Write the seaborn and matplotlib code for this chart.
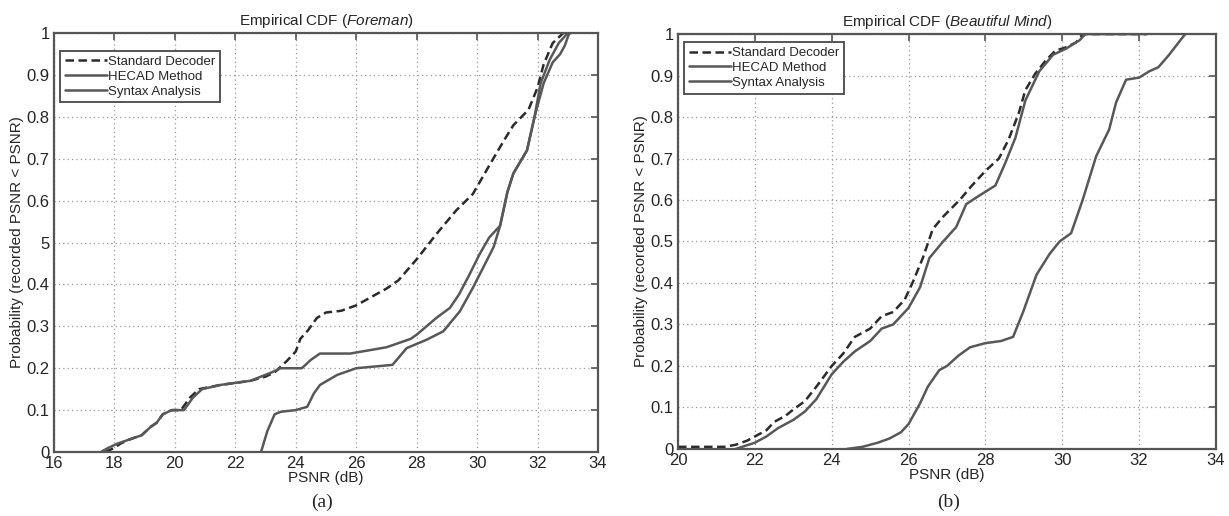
import matplotlib
matplotlib.use("Agg")
import matplotlib.pyplot as plt
import seaborn as sns
import pandas as pd

# ---------------- data ----------------
series_names = ["Standard Decoder", "HECAD Method", "Syntax Analysis"]

# Panel (a) Foreman
std_a_x = [17.7, 18.0, 18.2, 18.5, 18.9, 19.2, 19.4, 19.6, 19.9, 20.2, 20.5, 20.8, 21.5, 22.0, 22.5, 23.0,
           23.3, 23.7, 24.0, 24.15, 24.4, 24.7, 25.0, 25.5, 26.0, 26.5, 27.0, 27.4, 28.0, 28.65, 29.3,
           29.86, 30.5, 30.9, 31.2, 31.7, 32.0, 32.2, 32.5, 32.85, 33.1]
std_a_y = [0, 0.01, 0.02, 0.03, 0.04, 0.06, 0.07, 0.09, 0.10, 0.10, 0.13, 0.15, 0.16, 0.165, 0.17, 0.18,
           0.19, 0.217, 0.24, 0.27, 0.29, 0.32, 0.333, 0.337, 0.35, 0.37, 0.39, 0.41, 0.46, 0.52, 0.576,
           0.616, 0.696, 0.745, 0.78, 0.817, 0.87, 0.925, 0.976, 1.0, 1.0]
hecad_a_x = [17.55, 17.8, 18.1, 18.5, 18.9, 19.2, 19.4, 19.6, 19.9, 20.3, 20.6, 20.9, 21.5, 22.5, 23.2,
             23.5, 24.2, 24.5, 24.8, 25.3, 25.8, 26.2, 27.0, 27.8, 28.0, 28.65, 29.1, 29.4, 29.75, 30.08,
             30.4, 30.76, 31.0, 31.2, 31.65, 31.9, 32.1, 32.4, 32.7, 33.0, 33.1]
hecad_a_y = [0, 0.01, 0.02, 0.03, 0.04, 0.06, 0.07, 0.09, 0.10, 0.10, 0.13, 0.15, 0.16, 0.17, 0.19,
             0.20, 0.20, 0.22, 0.235, 0.235, 0.235, 0.24, 0.25, 0.27, 0.28, 0.32, 0.344, 0.376, 0.424, 0.472,
             0.512, 0.54, 0.62, 0.665, 0.72, 0.8, 0.88, 0.936, 0.976, 1.0, 1.0]
syntax_a_x = [22.85, 23.06, 23.3, 23.5, 24.0, 24.38, 24.6, 24.8, 25.37, 26.0, 27.2, 27.67, 28.33, 28.88,
              29.43, 29.86, 30.2, 30.55, 30.76, 31.0, 31.2, 31.65, 31.9, 32.2, 32.5, 32.75, 32.9, 33.05]
syntax_a_y = [0, 0.05, 0.09, 0.096, 0.1, 0.108, 0.14, 0.16, 0.184, 0.2, 0.208, 0.248, 0.268, 0.288,
              0.336, 0.392, 0.44, 0.49, 0.54, 0.62, 0.665, 0.72, 0.8, 0.88, 0.93, 0.95, 0.97, 1.0]

# Panel (b) Beautiful Mind
std_b_x = [20.0, 21.2, 21.5, 21.8, 22.0, 22.3, 22.5, 22.8, 23.0, 23.3, 23.6, 24.0, 24.3, 24.6, 25.0, 25.3,
           25.6, 25.9, 26.1, 26.37, 26.63, 26.9, 27.33, 27.65, 28.0, 28.35, 28.6, 28.87, 29.04, 29.3, 29.56,
           29.82, 30.1, 30.36, 30.53, 32.2]
std_b_y = [0.005, 0.005, 0.01, 0.02, 0.03, 0.045, 0.065, 0.08, 0.095, 0.115, 0.15, 0.2, 0.23, 0.27, 0.29,
           0.32, 0.33, 0.36, 0.4, 0.46, 0.53, 0.56, 0.6, 0.635, 0.67, 0.7, 0.745, 0.81, 0.865, 0.905, 0.935,
           0.96, 0.968, 0.98, 1.0, 1.0]
hecad_b_x = [21.5, 22.0, 22.3, 22.6, 23.0, 23.3, 23.6, 24.0, 24.3, 24.6, 25.0, 25.3, 25.6, 26.0, 26.3,
             26.54, 26.9, 27.24, 27.5, 27.83, 28.26, 28.52, 28.78, 29.04, 29.4, 29.76, 30.1, 30.45, 30.6, 32.2]
hecad_b_y = [0, 0.015, 0.03, 0.05, 0.07, 0.09, 0.12, 0.18, 0.21, 0.235, 0.26, 0.29, 0.30, 0.34, 0.39,
             0.46, 0.5, 0.535, 0.59, 0.61, 0.635, 0.69, 0.75, 0.84, 0.91, 0.95, 0.965, 0.985, 1.0, 1.0]
syntax_b_x = [24.4, 24.8, 25.2, 25.5, 25.8, 26.0, 26.3, 26.5, 26.8, 27.0, 27.3, 27.6, 28.0, 28.4, 28.72,
              28.98, 29.33, 29.67, 29.93, 30.23, 30.53, 30.88, 31.22, 31.4, 31.66, 32.0, 32.26, 32.5, 32.78,
              33.03, 33.2]
syntax_b_y = [0, 0.005, 0.015, 0.025, 0.04, 0.06, 0.11, 0.15, 0.19, 0.2, 0.225, 0.245, 0.255, 0.26, 0.27,
              0.33, 0.42, 0.47, 0.5, 0.52, 0.6, 0.705, 0.77, 0.835, 0.89, 0.895, 0.91, 0.92, 0.95, 0.98, 1.0]

a_xticks = [16, 18, 20, 22, 24, 26, 28, 30, 32, 34]
b_xticks = [20, 22, 24, 26, 28, 30, 32, 34]
yticks = [0, 0.1, 0.2, 0.3, 0.4, 0.5, 0.6, 0.7, 0.8, 0.9, 1.0]
a_ylabels = ["0", "0.1", "0.2", "0.3", "0.4", "5", "0.6", "0.7", "0.8", "0.9", "1"]
b_ylabels = ["0", "0.1", "0.2", "0.3", "0.4", "0.5", "0.6", "0.7", "0.8", "0.9", "1"]

# ---------------- style ----------------
sns.set_theme(style="white")
plt.rcParams["font.family"] = ["Liberation Sans", "DejaVu Sans"]
plt.rcParams["mathtext.fontset"] = "custom"
plt.rcParams["mathtext.it"] = "Liberation Sans:italic"
plt.rcParams["mathtext.rm"] = "Liberation Sans"

fig = plt.figure(figsize=(12.29, 5.16), dpi=100)
ax_a = fig.add_axes([0.0439, 0.124, 0.4427, 0.812])
ax_b = fig.add_axes([0.5517, 0.130, 0.4377, 0.804])

styles = {"Standard Decoder": dict(color="#2b2b2b", dashes=(3.4, 1.8)),
          "HECAD Method": dict(color="#585858"),
          "Syntax Analysis": dict(color="#585858")}


def draw(ax, data, xticks, ylabels, title, leg_top):
    for name, (xs, ys) in zip(series_names, data):
        df = pd.DataFrame({"PSNR": xs, "P": ys})
        st = styles[name]
        sns.lineplot(data=df, x="PSNR", y="P", ax=ax, color=st["color"], lw=1.8,
                     label=name, sort=False, estimator=None)
        if "dashes" in st:
            ax.lines[-1].set_dashes(st["dashes"])
    ax.set_xlim(xticks[0], xticks[-1])
    ax.set_ylim(0, 1)
    ax.set_xticks(xticks)
    ax.set_xticklabels([str(t) for t in xticks], fontsize=12)
    ax.set_yticks(yticks)
    ax.set_yticklabels(ylabels, fontsize=12)
    ax.grid(True, linestyle=(0, (1, 2.5)), color="#9a9a9a", lw=0.9)
    ax.tick_params(direction="in", length=5, width=1.2, color="#555555",
                   top=True, right=True, pad=3)
    for sp in ax.spines.values():
        sp.set_visible(True)
        sp.set_color("#555555")
        sp.set_linewidth(1.6)
    ax.set_xlabel("PSNR (dB)", fontsize=11, labelpad=0)
    ax.set_ylabel("Probability (recorded PSNR < PSNR)", fontsize=11, labelpad=2)
    ax.set_title(title, fontsize=11, pad=6)
    leg = ax.legend(loc="upper left", bbox_to_anchor=(0.011, leg_top), fontsize=9.5,
                    handlelength=3.2, handletextpad=0.1, borderaxespad=0, borderpad=0.35,
                    labelspacing=0.2, fancybox=False, framealpha=1, edgecolor="#555555")
    leg.get_frame().set_linewidth(1.4)


draw(ax_a, [(std_a_x, std_a_y), (hecad_a_x, hecad_a_y), (syntax_a_x, syntax_a_y)],
     a_xticks, a_ylabels, r"Empirical CDF ($\it{Foreman}$)", 0.957)
draw(ax_b, [(std_b_x, std_b_y), (hecad_b_x, hecad_b_y), (syntax_b_x, syntax_b_y)],
     b_xticks, b_ylabels, r"Empirical CDF ($\it{Beautiful\ Mind}$)", 0.98)

fig.text(0.262, 0.027, "(a)", fontsize=14, family=["Liberation Serif"], ha="center", va="center")
fig.text(0.772, 0.027, "(b)", fontsize=14, family=["Liberation Serif"], ha="center", va="center")

fig.savefig("out.png", dpi=100)
